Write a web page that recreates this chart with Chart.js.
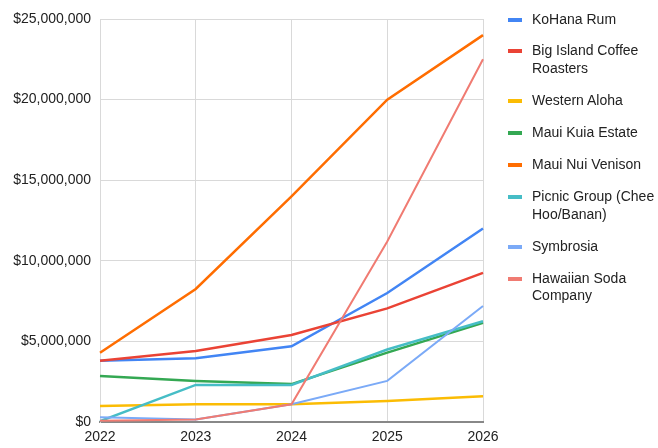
<!DOCTYPE html>
<html>
<head>
<meta charset="utf-8">
<script src="https://cdn.jsdelivr.net/npm/chart.js@4"></script>
<style>
  html, body { margin: 0; padding: 0; background: #fff; overflow: hidden; }
  #wrap { position: relative; width: 658px; height: 448px; }
  #legend {
    position: absolute; left: 508px; top: 10.5px; width: 150px;
    font-family: "Liberation Sans", Arial, sans-serif; font-size: 14px;
    color: #222; line-height: 17.6px;
  }
  .item { position: relative; padding-left: 24px; width: 130px; margin-bottom: 14.4px; }
  .item i { position: absolute; left: 0; top: 7px; width: 14px; height: 4px; }
</style>
</head>
<body>
<div id="wrap">
  <canvas id="chart" width="658" height="448"></canvas>
  <div id="legend"></div>
</div>
<script>
// ── Data ────────────────────────────────────────────────────────────────
const years = ["2022", "2023", "2024", "2025", "2026"];
const yTicks = [0, 5000000, 10000000, 15000000, 20000000, 25000000];

const names = [
  "KoHana Rum",
  "Big Island Coffee Roasters",
  "Western Aloha",
  "Maui Kuia Estate",
  "Maui Nui Venison",
  "Picnic Group (Chee Hoo/Banan)",
  "Symbrosia",
  "Hawaiian Soda Company",
];
const colors = ["#4285f4", "#ea4335", "#fbbc04", "#34a853", "#ff6d01", "#46bdc6", "#7baaf7", "#f07b72"];

const kohana     = [3800000, 3950000, 4700000, 8000000, 12000000];
const bigIsland  = [3800000, 4400000, 5400000, 7050000, 9250000];
const westAloha  = [1000000, 1100000, 1100000, 1300000, 1600000];
const mauiKuia   = [2850000, 2550000, 2350000, 4300000, 6150000];
const mauiNui    = [4300000, 8250000, 14000000, 20000000, 24000000];
const picnic     = [50000, 2300000, 2300000, 4500000, 6250000];
const symbrosia  = [300000, 150000, 1100000, 2550000, 7200000];
const hawaiiSoda = [80000, 150000, 1100000, 11200000, 22500000];

const series = [kohana, bigIsland, westAloha, mauiKuia, mauiNui, picnic, symbrosia, hawaiiSoda];
const widths = [2.5, 2.5, 2.5, 2.5, 2.5, 2.5, 2, 2];

// ── Legend (HTML, so long names wrap like the original) ─────────────────
const legend = document.getElementById("legend");
names.forEach((n, i) => {
  const d = document.createElement("div");
  d.className = "item";
  d.innerHTML = `<i style="background:${colors[i]}"></i>${n}`;
  legend.appendChild(d);
});

// ── Chart ───────────────────────────────────────────────────────────────
const FONT = { family: "'Liberation Sans', Arial, sans-serif", size: 14 };

new Chart(document.getElementById("chart"), {
  type: "line",
  data: {
    labels: years,
    datasets: series.map((s, i) => ({
      label: names[i],
      data: s,
      borderColor: colors[i],
      backgroundColor: colors[i],
      borderWidth: widths[i],
      pointRadius: 0,
      tension: 0,
      order: series.length - i,
    })),
  },
  options: {
    responsive: false,
    animation: false,
    layout: { padding: { left: 0, top: 19, right: 175, bottom: 0 } },
    plugins: { legend: { display: false }, tooltip: { enabled: false } },
    scales: {
      x: {
        grid: { color: "#d9d9d9", drawTicks: false },
        border: { color: "#888", width: 2 },
        ticks: { color: "#222", font: FONT, padding: 7, maxRotation: 0 },
        afterFit: s => { s.height = 26; },
      },
      y: {
        min: 0,
        max: 25000000,
        afterBuildTicks: s => { s.ticks = yTicks.map(v => ({ value: v })); },
        grid: { color: "#d9d9d9", drawTicks: false },
        border: { color: "#d9d9d9" },
        ticks: {
          color: "#222", font: FONT, padding: 9,
          callback: v => "$" + Number(v).toLocaleString("en-US"),
        },
        afterFit: s => { s.width = 100; },
      },
    },
  },
});
</script>
</body>
</html>
